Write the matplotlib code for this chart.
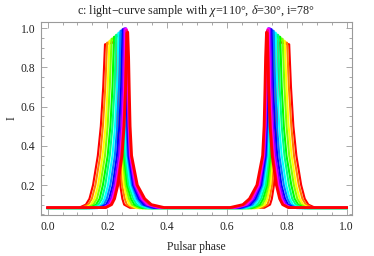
import numpy as np
import matplotlib
matplotlib.use("Agg")
import matplotlib.pyplot as plt
from matplotlib.colors import hsv_to_rgb
from matplotlib.ticker import MultipleLocator

# ---- data: first pulse (phase 0..0.5); the second pulse is its mirror image about phase 0.5 ----
hues = [0.0, 0.083, 0.167, 0.25, 0.333, 0.417, 0.5, 0.583, 0.667, 0.75, 0.833, 0.917, 1.0]
baseline = [0.084, 0.083, 0.082, 0.082, 0.082, 0.082, 0.082, 0.082, 0.083, 0.083, 0.084, 0.084, 0.085]

left_foot = [0.105, 0.113, 0.123, 0.131, 0.141, 0.149, 0.1585, 0.167, 0.175, 0.182, 0.187, 0.192, 0.195]
left_010 = [0.128, 0.136, 0.145, 0.153, 0.162, 0.170, 0.1795, 0.188, 0.196, 0.202, 0.207, 0.211, 0.214]
left_013 = [0.140, 0.148, 0.157, 0.165, 0.174, 0.182, 0.1905, 0.198, 0.206, 0.212, 0.217, 0.221, 0.224]
left_020 = [0.152, 0.160, 0.169, 0.1765, 0.185, 0.193, 0.202, 0.210, 0.218, 0.2235, 0.228, 0.232, 0.235]
left_035 = [0.168, 0.176, 0.184, 0.192, 0.201, 0.208, 0.217, 0.225, 0.232, 0.238, 0.243, 0.246, 0.249]
left_050 = [0.178, 0.185, 0.194, 0.201, 0.210, 0.217, 0.2255, 0.233, 0.240, 0.246, 0.250, 0.2535, 0.256]
left_070 = [0.186, 0.193, 0.201, 0.208, 0.217, 0.224, 0.232, 0.239, 0.246, 0.251, 0.256, 0.259, 0.261]
corner_x = [0.192, 0.199, 0.207, 0.214, 0.222, 0.229, 0.237, 0.244, 0.251, 0.256, 0.260, 0.263, 0.265]
corner_I = [0.918, 0.926, 0.936, 0.946, 0.956, 0.966, 0.977, 0.987, 0.995, 0.999, 0.997, 0.990, 0.975]
top_end_x = [0.226, 0.231, 0.236, 0.240, 0.244, 0.248, 0.252, 0.256, 0.259, 0.262, 0.264, 0.266, 0.268]
top_end_I = [0.930, 0.938, 0.947, 0.956, 0.965, 0.974, 0.983, 0.991, 0.997, 1.000, 0.997, 0.990, 0.980]
right_085 = [0.229, 0.234, 0.239, 0.243, 0.247, 0.251, 0.255, 0.259, 0.262, 0.265, 0.267, 0.269, 0.271]
right_070 = [0.231, 0.236, 0.241, 0.245, 0.249, 0.253, 0.257, 0.261, 0.264, 0.267, 0.269, 0.271, 0.273]
right_050 = [0.234, 0.239, 0.244, 0.248, 0.252, 0.256, 0.260, 0.264, 0.267, 0.270, 0.272, 0.274, 0.276]
right_035 = [0.237, 0.242, 0.247, 0.251, 0.2555, 0.2595, 0.264, 0.268, 0.271, 0.2745, 0.2765, 0.279, 0.281]
right_020 = [0.243, 0.249, 0.2555, 0.261, 0.266, 0.271, 0.2765, 0.282, 0.286, 0.290, 0.2935, 0.297, 0.300]
right_013 = [0.250, 0.258, 0.2655, 0.272, 0.279, 0.286, 0.2925, 0.299, 0.305, 0.311, 0.3155, 0.320, 0.325]
right_010 = [0.256, 0.265, 0.274, 0.282, 0.290, 0.298, 0.3065, 0.315, 0.322, 0.329, 0.335, 0.341, 0.347]
right_foot = [0.275, 0.286, 0.297, 0.307, 0.317, 0.327, 0.3375, 0.348, 0.357, 0.366, 0.374, 0.382, 0.390]

x_ticks = [0.0, 0.2, 0.4, 0.6, 0.8, 1.0]
y_ticks = [0.2, 0.4, 0.6, 0.8, 1.0]

plt.rcParams['mathtext.fontset'] = 'custom'
plt.rcParams['mathtext.rm'] = 'Liberation Serif'
plt.rcParams['mathtext.it'] = 'Liberation Serif:italic'
plt.rcParams['font.family'] = ['Liberation Serif', 'DejaVu Serif']

fig = plt.figure(figsize=(3.74, 2.56), dpi=100)
ax = fig.add_axes([41/374, 1-215/256, 311/374, 193/256])

for k in range(len(hues)):
    b = baseline[k]
    ph = [0.0, left_foot[k], left_010[k], left_013[k], left_020[k], left_035[k], left_050[k],
          left_070[k], corner_x[k], top_end_x[k], right_085[k], right_070[k], right_050[k],
          right_035[k], right_020[k], right_013[k], right_010[k], right_foot[k], 0.5]
    iv = [b, b, 0.10, 0.13, 0.20, 0.35, 0.50, 0.70, corner_I[k], top_end_I[k], 0.85, 0.70, 0.50,
          0.35, 0.20, 0.13, 0.10, b, b]
    ph = np.array(ph)
    iv = np.array(iv)
    full_ph = np.concatenate([ph, (1.0 - ph)[::-1]])
    full_iv = np.concatenate([iv, iv[::-1]])
    col = hsv_to_rgb([hues[k] % 1.0, 1.0, 1.0])
    lw = 2.0 if k == len(hues) - 1 else 1.5
    ax.plot(full_ph, full_iv, color=col, lw=lw, solid_joinstyle='round', zorder=2 + k)

ax.set_xlim(-0.022, 1.018)
ax.set_ylim(0.047, 1.032)
ax.set_xticks(x_ticks)
ax.set_yticks(y_ticks)
ax.set_xticklabels([f"{v:.1f}" for v in x_ticks])
ax.set_yticklabels([f"{v:.1f}" for v in y_ticks])
ax.xaxis.set_minor_locator(MultipleLocator(0.05))
ax.yaxis.set_minor_locator(MultipleLocator(0.05))
gray = '#9a9a9a'
for s in ax.spines.values():
    s.set_color(gray)
    s.set_linewidth(0.8)
ax.tick_params(which='both', direction='in', top=True, right=True, colors=gray,
               labelcolor='#222222', labelsize=8.4, width=0.6)
ax.tick_params(which='major', length=4, pad=4)
ax.tick_params(which='minor', length=2)

ax.set_xlabel('Pulsar phase', fontsize=8.4, color='#222222', labelpad=6)
ax.set_ylabel('I', fontsize=8.4, color='#222222', labelpad=2, rotation=90)
ax.set_title(r'c: light$-$curve sample with $\chi$=110°, $\delta$=30°, i=78°',
             fontsize=8.7, color='#222222', pad=6)

fig.savefig('out.png', dpi=100)
